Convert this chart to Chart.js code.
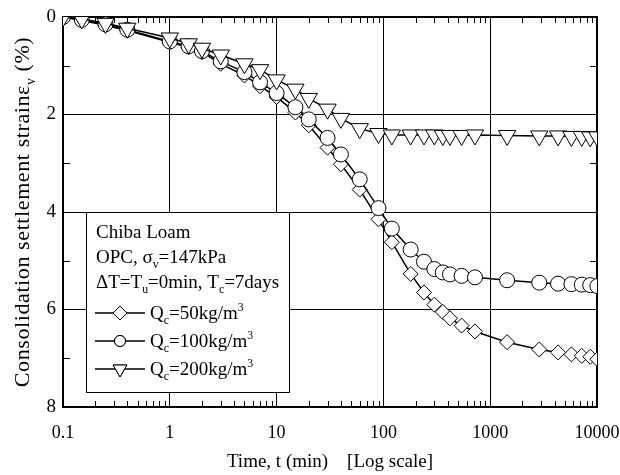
<!DOCTYPE html>
<html>
<head>
<meta charset="utf-8">
<script src="https://cdn.jsdelivr.net/npm/chart.js@4.4.0/dist/chart.umd.min.js"></script>
<style>
  html, body { margin: 0; padding: 0; background: #fff; }
</style>
</head>
<body>
<canvas id="strainChart" width="620" height="475"></canvas>
<script>
// elapsed time (min)
const times = [0.1, 0.15, 0.25, 0.4, 1, 1.5, 2, 3, 5, 7, 10, 15, 20, 30, 40, 60, 90, 120,
  180, 240, 300, 360, 420, 540, 720, 1440, 2880, 4320, 5760, 7200, 8640, 10080];

// consolidation settlement strain (%)
const strainQc50 = [0, 0.07, 0.17, 0.28, 0.52, 0.62, 0.72, 0.96, 1.2, 1.42, 1.64, 1.96, 2.22, 2.68, 3.02, 3.54, 4.15, 4.62,
  5.27, 5.65, 5.9, 6.05, 6.18, 6.33, 6.45, 6.67, 6.82, 6.88, 6.92, 6.95, 6.97, 7.02];
const strainQc100 = [0, 0.06, 0.15, 0.26, 0.5, 0.6, 0.7, 0.91, 1.13, 1.34, 1.56, 1.85, 2.1, 2.48, 2.82, 3.33, 3.92, 4.34,
  4.77, 5.02, 5.17, 5.24, 5.28, 5.31, 5.34, 5.4, 5.45, 5.47, 5.48, 5.49, 5.5, 5.52];
const strainQc200 = [0, 0.04, 0.13, 0.23, 0.43, 0.55, 0.64, 0.78, 0.96, 1.08, 1.29, 1.48, 1.67, 1.89, 2.08, 2.29, 2.39, 2.42,
  2.42, 2.42, 2.42, 2.43, 2.43, 2.43, 2.42, 2.43, 2.44, 2.44, 2.45, 2.45, 2.46, 2.46];

const xTicks = [0.1, 1, 10, 100, 1000, 10000];
const yTicks = [0, 2, 4, 6, 8];
const yMinor = [1, 3, 5, 7];

// text pieces: [text, 'sub' | 'sup' | '']
const yTitle = [['Consolidation settlement strain'], ['ε'], ['v', 'sub'], [' (%)']];
const infoLines = [
  [['Chiba Loam']],
  [['OPC, σ'], ['v', 'sub'], ['=147kPa']],
  [['ΔT=T'], ['u', 'sub'], ['=0min, T'], ['c', 'sub'], ['=7days']]
];
const seriesLabels = [
  [['Q'], ['c', 'sub'], ['=50kg/m'], ['3', 'sup']],
  [['Q'], ['c', 'sub'], ['=100kg/m'], ['3', 'sup']],
  [['Q'], ['c', 'sub'], ['=200kg/m'], ['3', 'sup']]
];

const FONT = '"Liberation Serif", "Times New Roman", serif';

function richWidth(ctx, parts, size) {
  let w = 0;
  parts.forEach(p => {
    ctx.font = (p[1] ? size * 0.62 : size) + 'px ' + FONT;
    w += ctx.measureText(p[0]).width;
  });
  return w;
}

function drawRich(ctx, x, y, parts, size) {
  ctx.textBaseline = 'alphabetic';
  ctx.textAlign = 'left';
  parts.forEach(p => {
    let dy = 0, s = size;
    if (p[1] === 'sub') { s = size * 0.62; dy = size * 0.28; }
    if (p[1] === 'sup') { s = size * 0.62; dy = -size * 0.42; }
    ctx.font = s + 'px ' + FONT;
    ctx.fillText(p[0], x, y + dy);
    x += ctx.measureText(p[0]).width;
  });
}

const frame = {
  id: 'frame',
  beforeDatasetsDraw(chart) {
    const { ctx, chartArea: a, scales: { x, y } } = chart;
    ctx.save();
    ctx.strokeStyle = '#000';
    ctx.lineWidth = 1;
    ctx.beginPath();
    for (let d = 0.1; d < 10000; d *= 10) {
      for (let k = 2; k <= 9; k++) {
        const px = Math.round(x.getPixelForValue(k * d)) + 0.5;
        ctx.moveTo(px, a.bottom); ctx.lineTo(px, a.bottom - 6);
        ctx.moveTo(px, a.top); ctx.lineTo(px, a.top + 6);
      }
    }
    yMinor.forEach(v => {
      const py = Math.round(y.getPixelForValue(v)) + 0.5;
      ctx.moveTo(a.left, py); ctx.lineTo(a.left + 7, py);
      ctx.moveTo(a.right, py); ctx.lineTo(a.right - 7, py);
    });
    ctx.stroke();
    ctx.lineWidth = 2;
    ctx.strokeRect(a.left, a.top, a.right - a.left, a.bottom - a.top);
    ctx.restore();
  },
  afterDraw(chart) {
    const { ctx, chartArea: a } = chart;
    ctx.save();
    ctx.fillStyle = '#000';
    // y axis title, rotated
    const size = 22;
    ctx.letterSpacing = '0.6px';
    const w = richWidth(ctx, yTitle, size);
    ctx.translate(29, (a.top + a.bottom) / 2);
    ctx.rotate(-Math.PI / 2);
    drawRich(ctx, -w / 2, 0, yTitle, size);
    ctx.restore();

    // info / legend box
    ctx.save();
    const bx = 86, by = 212, bw = 203, bh = 180;
    ctx.fillStyle = '#fff';
    ctx.fillRect(bx, by, bw, bh);
    ctx.strokeStyle = '#000';
    ctx.lineWidth = 1;
    ctx.strokeRect(bx + 0.5, by + 0.5, bw, bh);
    ctx.fillStyle = '#000';
    infoLines.forEach((parts, i) => drawRich(ctx, 96, 238 + i * 25, parts, 19));
    chart.data.datasets.slice().reverse().forEach((ds, i) => {
      const cy = 313 + i * 28;
      ctx.strokeStyle = '#000';
      ctx.lineWidth = 1.5;
      ctx.beginPath();
      ctx.moveTo(95, cy); ctx.lineTo(145, cy);
      ctx.stroke();
      ctx.fillStyle = '#fff';
      ctx.lineWidth = 1;
      Chart.helpers.drawPoint(ctx, {
        pointStyle: ds.pointStyle, rotation: ds.rotation || 0,
        radius: ds.legendRadius, borderWidth: 1
      }, 120, cy);
      ctx.fill();
      ctx.stroke();
      ctx.fillStyle = '#000';
      drawRich(ctx, 150, cy + 6, seriesLabels[i], 19);
    });
    ctx.restore();
  }
};

function series(values, style, radius, legendRadius, rotation) {
  return {
    data: times.map((t, i) => ({ x: t, y: values[i] })),
    borderColor: '#000',
    borderWidth: 1.5,
    pointStyle: style,
    pointRadius: radius,
    legendRadius: legendRadius,
    rotation: rotation,
    pointBackgroundColor: '#fff',
    pointBorderColor: '#000',
    pointBorderWidth: 1,
    tension: 0
  };
}

const ctx = document.getElementById('strainChart').getContext('2d');
new Chart(ctx, {
  type: 'line',
  data: {
    datasets: [
      series(strainQc200, 'triangle', 10, 8, 180),
      series(strainQc100, 'circle', 7.5, 5.5),
      series(strainQc50, 'rectRot', 7.5, 7)
    ]
  },
  options: {
    responsive: false,
    devicePixelRatio: 1,
    animation: false,
    layout: { padding: { top: 17, right: 23, left: 0, bottom: 0 } },
    plugins: { legend: { display: false }, tooltip: { enabled: false } },
    scales: {
      x: {
        type: 'logarithmic',
        min: 0.1,
        max: 10000,
        afterBuildTicks: s => { s.ticks = xTicks.map(v => ({ value: v, major: true })); },
        afterFit: s => { s.height = 68; s.paddingLeft = 0; s.paddingRight = 0; },
        grid: { color: '#000', lineWidth: 1, drawTicks: false },
        border: { display: false },
        ticks: {
          color: '#000',
          padding: 15,
          maxRotation: 0,
          autoSkip: false,
          font: { family: FONT, size: 18 },
          callback: v => String(v)
        },
        title: {
          display: true,
          text: 'Time, t (min)    [Log scale]',
          color: '#000',
          font: { family: FONT, size: 19 },
          padding: { top: 0, bottom: 2 }
        }
      },
      y: {
        reverse: true,
        min: 0,
        max: 8,
        afterBuildTicks: s => { s.ticks = yTicks.map(v => ({ value: v })); },
        afterFit: s => { s.width = 63; s.paddingTop = 0; s.paddingBottom = 0; },
        grid: { color: '#000', lineWidth: 1, drawTicks: false },
        border: { display: false },
        ticks: {
          color: '#000',
          padding: 7,
          font: { family: FONT, size: 19 }
        }
      }
    }
  },
  plugins: [frame]
});
</script>
</body>
</html>
